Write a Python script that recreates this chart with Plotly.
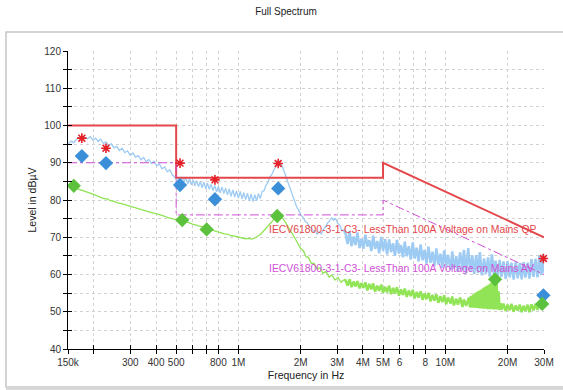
import math
import plotly.graph_objects as go

# ---------------- data ----------------
# limit lines (Hz, dB)
qp_limit_f = [150e3, 500e3, 500e3, 5e6, 5e6, 30e6]
qp_limit_lvl = [100, 100, 86, 86, 90, 70]
av_limit_f = [150e3, 500e3, 500e3, 5e6, 5e6, 30e6]
av_limit_lvl = [90, 90, 76, 76, 80, 60]

# peak trace (blue) - low part in kHz
blue_low_khz = [150, 155, 160, 165, 170, 175, 180, 186, 192, 198, 204, 210, 216, 222, 229, 236, 243, 250, 258, 266,
                274, 282, 291, 300, 309, 318, 328, 338, 348, 358, 369, 380, 391, 403, 415, 427, 440, 453, 466, 480,
                494, 505, 515,
                525, 535, 546, 557, 568, 580, 592, 604, 616, 628, 641, 654, 667, 681, 695, 709, 723, 738, 753, 768,
                784, 800, 816, 833, 850, 867, 885, 903, 921, 940, 959, 979, 999, 1020, 1041, 1062, 1084, 1106, 1129,
                1152, 1176, 1200, 1224, 1249, 1275, 1301,
                1330, 1360, 1390, 1420, 1450, 1480, 1510, 1540, 1570, 1600, 1630, 1660, 1690, 1720, 1760, 1800, 1840,
                1880, 1920, 1960, 2000, 2050, 2100, 2150, 2200, 2250, 2300, 2350, 2400, 2460, 2520, 2580, 2640, 2700,
                2760, 2820, 2880, 2950, 3020, 3090, 3160, 3230]
blue_low_lvl = [95.0, 95.8, 95.4, 96.3, 96.8, 96.2, 96.9, 96.4, 97.0, 96.1, 96.6, 95.7, 96.3, 95.2, 95.6, 94.6, 95.1,
                94.0, 94.4, 93.3, 93.9, 92.7, 93.2, 92.0, 92.6, 91.5, 91.9, 90.8, 91.4, 90.3, 90.9, 89.8, 90.4, 89.2,
                89.7, 88.4, 88.9, 87.6, 88.1, 86.7, 86.0, 85.0, 85.8,
                84.6, 86.2, 84.9, 86.0, 84.3, 85.7, 84.1, 85.4, 83.8, 85.2, 83.6, 85.0, 83.3, 84.8, 83.0, 84.5, 82.9,
                84.2, 82.5, 83.9, 82.2, 83.7, 81.9, 83.5, 81.7, 83.2, 81.4, 83.0, 81.0, 82.7, 80.8, 82.4, 80.5, 82.3,
                80.3, 82.0, 80.1, 81.8, 79.8, 81.6, 79.6, 81.4, 79.8, 81.7, 80.4, 82.3,
                82.5, 84.0, 84.8, 86.2, 86.8, 88.0, 88.8, 90.0, 90.4, 89.8, 89.0, 87.8, 86.5, 85.2, 83.6, 82.0, 80.4,
                79.3, 77.9, 77.2, 76.0, 75.4, 74.3, 73.9, 72.8, 72.6, 71.5, 71.8, 70.8, 71.5, 70.9, 72.2, 72.8, 73.9,
                74.4, 75.2, 74.6, 75.0, 73.8, 73.2, 71.8, 72.0]
# peak trace (blue) - high part in MHz
blue_high_mhz = [3.30, 3.37, 3.45, 3.52, 3.60, 3.68, 3.76, 3.85, 3.93, 4.02, 4.11, 4.20, 4.29, 4.39, 4.48, 4.58, 4.69,
                 4.79, 4.90, 5.00, 5.12, 5.23, 5.35, 5.47, 5.59, 5.71, 5.84, 5.97, 6.10, 6.24, 6.37, 6.51, 6.66, 6.81,
                 6.96, 7.11, 7.27, 7.43, 7.60, 7.77, 7.94, 8.11, 8.29, 8.48, 8.67, 8.86, 9.05, 9.25, 9.46, 9.67, 9.88,
                 10.1, 10.3, 10.6, 10.8, 11.0, 11.3, 11.5, 11.8, 12.1, 12.3, 12.6, 12.9, 13.2, 13.5, 13.8, 14.1, 14.4,
                 14.7, 15.0, 15.4, 15.7, 16.1, 16.4, 16.8, 17.2, 17.5, 17.9, 18.3, 18.7, 19.1, 19.6, 20.0, 20.5, 20.9,
                 21.4, 21.9, 22.4, 22.9, 23.4, 23.9, 24.4, 25.0, 25.5, 26.1, 26.7, 27.3, 27.9, 28.5, 29.1, 29.7, 30.0]
blue_high_lvl = [70.8, 68.2, 71.6, 67.6, 70.2, 67.9, 71.3, 67.1, 69.6, 66.9, 70.7, 67.5, 69.2, 66.3, 70.4, 66.9, 69.0,
                 65.7, 70.1, 66.4, 69.5, 65.4, 69.4, 66.0, 68.4, 65.0, 69.3, 65.6, 67.9, 64.6, 68.8, 64.9, 67.6, 64.0,
                 68.6, 64.3, 67.2, 63.5, 68.1, 63.8, 66.6, 62.9, 67.5, 63.1, 66.1, 62.3, 67.0, 62.7, 65.6, 61.8, 66.5,
                 62.1, 65.3, 61.3, 66.2, 61.6, 64.9, 60.8, 65.9, 61.1, 66.6, 60.4, 67.1, 60.8, 65.1, 60.1, 65.2, 60.4,
                 66.0, 59.8, 64.3, 60.1, 64.6, 59.4, 65.4, 59.8, 63.7, 59.1, 63.9, 59.4, 63.5, 58.8, 63.6, 59.2, 63.2,
                 58.6, 63.4, 59.0, 63.1, 58.7, 63.3, 59.2, 63.2, 58.9, 64.1, 59.4, 64.2, 59.2, 65.0, 59.8, 65.5, 60.5]

# average trace (green) - low part in kHz
green_low_khz = [150, 156, 162, 169, 176, 183, 190, 198, 206, 214, 223, 232, 241, 251, 261, 272, 283, 294, 306, 318,
                 331, 345, 359, 373, 388, 404, 420, 437, 455, 473, 492, 512, 533, 554, 577, 600, 624, 649, 675, 702,
                 730, 760, 790, 822, 855, 889, 925, 962, 1000, 1040, 1080, 1120, 1160, 1200, 1240, 1280, 1320, 1360,
                 1400, 1440, 1480, 1520, 1560, 1600, 1640, 1680, 1720, 1760, 1800, 1850, 1900, 1950, 2000, 2060, 2120,
                 2180, 2250, 2320, 2400, 2480, 2560, 2650, 2740, 2830, 2930, 3030, 3130, 3240]
green_low_lvl = [83.9, 83.6, 83.3, 83.0, 82.5, 82.4, 81.9, 81.6, 81.2, 80.9, 80.4, 80.3, 79.8, 79.6, 79.2, 79.0, 78.7,
                 78.5, 78.2, 77.9, 77.7, 77.3, 77.1, 76.8, 76.5, 76.3, 75.9, 75.7, 75.3, 75.1, 74.8, 74.6, 74.5, 74.1,
                 73.9, 73.5, 73.3, 72.9, 72.7, 72.4, 72.1, 71.9, 71.5, 71.3, 70.9, 70.8, 70.4, 70.3, 70.0, 69.9, 69.6,
                 69.7, 69.5, 69.8, 70.2, 70.8, 71.6, 72.5, 73.3, 74.0, 74.7, 75.3, 75.7, 75.5, 75.0, 74.2, 73.3, 72.4,
                 71.5, 70.3, 69.2, 68.0, 67.0, 66.4, 64.8, 64.6, 63.0, 63.0, 61.5, 61.8, 60.3, 60.8, 59.3, 59.9, 58.5,
                 59.2, 57.9, 58.6]
# average trace (green) - high part in MHz
green_high_mhz = [3.30, 3.37, 3.45, 3.52, 3.60, 3.68, 3.76, 3.85, 3.93, 4.02, 4.11, 4.20, 4.29, 4.39, 4.48, 4.58, 4.69,
                  4.79, 4.90, 5.00, 5.12, 5.23, 5.35, 5.47, 5.59, 5.71, 5.84, 5.97, 6.10, 6.24, 6.37, 6.51, 6.66, 6.81,
                  6.96, 7.11, 7.27, 7.43, 7.60, 7.77, 7.94, 8.11, 8.29, 8.48, 8.67, 8.86, 9.05, 9.25, 9.46, 9.67, 9.88,
                  10.1, 10.3, 10.6, 10.8, 11.0, 11.3, 11.5, 11.8, 12.1, 12.3, 12.6, 12.9,
                  13.0, 13.15, 13.3, 13.45, 13.6, 13.75, 13.9, 14.05, 14.2, 14.35, 14.5, 14.7, 14.85, 15.0, 15.2, 15.35,
                  15.5, 15.7, 15.85, 16.05, 16.2, 16.4, 16.6, 16.75, 16.95, 17.15, 17.35, 17.5, 17.7, 17.9, 18.1, 18.3,
                  18.5, 18.7, 19.1, 19.6, 20.0, 20.5, 20.9, 21.4, 21.9, 22.4, 22.9, 23.4, 23.9, 24.4, 25.0, 25.5, 26.1,
                  26.7, 27.3, 27.9, 28.5, 29.1, 29.7, 30.0]
green_high_lvl = [58.4, 57.0, 58.7, 56.6, 58.1, 56.8, 58.2, 56.3, 57.7, 56.4, 57.9, 55.7, 57.5, 56.0, 57.6, 55.4, 57.0,
                  55.6, 57.3, 55.1, 56.7, 55.2, 57.0, 54.7, 56.4, 54.9, 56.6, 54.3, 56.0, 54.5, 56.2, 54.0, 55.7, 54.2,
                  55.9, 53.6, 55.3, 53.8, 55.5, 53.2, 54.9, 53.4, 55.1, 52.8, 54.5, 53.0, 54.7, 52.4, 54.2, 52.6, 54.4,
                  52.0, 53.8, 52.2, 54.1, 51.7, 53.5, 51.9, 53.8, 51.3, 53.3, 51.6, 53.6,
                  53.8, 51.2, 54.2, 51.1, 54.6, 51.1, 55.0, 51.0, 55.3, 51.0, 55.6, 50.9, 55.9, 50.9, 56.3, 50.8,
                  56.6, 50.8, 57.0, 50.7, 57.3, 50.7, 57.7, 50.7, 58.1, 50.6, 58.6, 50.6, 58.0, 50.6, 55.5, 50.5,
                  52.3, 50.5, 52.2, 50.2, 51.9, 50.4, 52.1, 50.0, 51.7, 50.3, 51.9, 49.9, 51.6, 50.2, 51.9, 49.9, 52.0,
                  50.4, 52.1, 50.5, 52.6, 50.9, 53.0, 52.2]

# final measurement points
qp_f = [175e3, 229e3, 522e3, 770e3, 1.557e6, 29.8e6]
qp_lvl = [96.6, 93.9, 89.9, 85.4, 89.8, 64.3]
peak_f = [175e3, 229e3, 522e3, 770e3, 1.557e6, 29.8e6]
peak_lvl = [91.8, 89.9, 84.0, 80.2, 83.1, 54.4]
avg_f = [160e3, 535e3, 702e3, 1.54e6, 17.4e6, 29.4e6]
avg_lvl = [83.8, 74.6, 72.1, 75.7, 58.7, 52.1]

# axis ticks
x_tickvals = [150e3, 200e3, 300e3, 400e3, 500e3, 600e3, 700e3, 800e3, 1e6, 2e6, 3e6, 4e6, 5e6, 6e6, 7e6, 8e6,
              10e6, 20e6, 30e6]
x_ticktext = ["150k", "", "300", "400", "500", "", "", "800", "1M", "2M", "3M", "4M", "5M", "6", "", "8",
              "10M", "20M", "30M"]
y_tickvals = [40, 45, 50, 55, 60, 65, 70, 75, 80, 85, 90, 95, 100, 105, 110, 115, 120]
y_ticktext = ["40", "", "50", "", "60", "", "70", "", "80", "", "90", "", "100", "", "110", "", "120"]

qp_label = "IECV61800-3-1-C3- LessThan 100A Voltage on Mains QP"
av_label = "IECV61800-3-1-C3- LessThan 100A Voltage on Mains AV"

# ---------------- build ----------------
blue_lo_f = [f * 1e3 for f in blue_low_khz]
blue_hi_f = [blue_lo_f[-1]] + [f * 1e6 for f in blue_high_mhz]
blue_hi_l = [blue_low_lvl[-1]] + blue_high_lvl
green_lo_f = [f * 1e3 for f in green_low_khz]
green_hi_f = [green_lo_f[-1]] + [f * 1e6 for f in green_high_mhz]
green_hi_l = [green_low_lvl[-1]] + green_high_lvl

FONT = "Liberation Sans, Arial, sans-serif"
GREEN = "#90e455"
BLUE = "#9dcbf3"
RED = "#e4474b"
MAG = "#d050d6"

fig = go.Figure()
fig.add_trace(go.Scatter(x=green_lo_f, y=green_low_lvl, mode="lines", line=dict(color=GREEN, width=1.3)))
fig.add_trace(go.Scatter(x=green_hi_f, y=green_hi_l, mode="lines", line=dict(color=GREEN, width=2.5)))
fig.add_trace(go.Scatter(x=blue_lo_f, y=blue_low_lvl, mode="lines", line=dict(color=BLUE, width=1.3)))
fig.add_trace(go.Scatter(x=blue_hi_f, y=blue_hi_l, mode="lines", line=dict(color=BLUE, width=2.5)))
fig.add_trace(go.Scatter(x=qp_limit_f, y=qp_limit_lvl, mode="lines", line=dict(color=RED, width=2)))
fig.add_trace(go.Scatter(x=av_limit_f, y=av_limit_lvl, mode="lines",
                         line=dict(color=MAG, width=1, dash="dashdot")))
fig.add_trace(go.Scatter(x=qp_f, y=qp_lvl, mode="markers", cliponaxis=False,
                         marker=dict(symbol="asterisk-open", size=8, color="#e52028",
                                     line=dict(color="#e52028", width=1.6))))
fig.add_trace(go.Scatter(x=peak_f, y=peak_lvl, mode="markers", cliponaxis=False,
                         marker=dict(symbol="diamond", size=11, color="#3b8fd9")))
fig.add_trace(go.Scatter(x=avg_f, y=avg_lvl, mode="markers", cliponaxis=False,
                         marker=dict(symbol="diamond", size=11, color="#5cc13c")))
# helper trace for the overlay axes (crossing ticks)
fig.add_trace(go.Scatter(x=[], y=[], xaxis="x2", yaxis="y2", showlegend=False))

xr = [math.log10(150e3), math.log10(30e6)]

fig.add_annotation(x=math.log10(1.374e6), y=72.2, text=qp_label, showarrow=False, xanchor="left",
                   yanchor="middle", font=dict(family=FONT, size=10.4, color=RED))
fig.add_annotation(x=math.log10(1.374e6), y=61.7, text=av_label, showarrow=False, xanchor="left",
                   yanchor="middle", font=dict(family=FONT, size=10.4, color=MAG))

axis_common = dict(showline=True, linecolor="#000", linewidth=1, tickcolor="#000", ticklen=4, tickwidth=1,
                   zeroline=False, automargin=False, tickfont=dict(family=FONT, size=10, color="#333"))

fig.update_layout(
    width=563, height=390,
    margin=dict(l=68, r=19, t=51, b=41),
    paper_bgcolor="white", plot_bgcolor="white",
    showlegend=False, hovermode=False,
    font=dict(family=FONT, size=10, color="#333"),
    title=dict(text="Full Spectrum", x=286 / 563, xref="container", xanchor="center",
               y=1 - 11 / 390, yref="container", yanchor="middle",
               font=dict(family=FONT, size=10, color="#222")),
    xaxis=dict(type="log", range=xr, tickvals=x_tickvals, ticktext=x_ticktext, ticks="outside",
               showgrid=True, gridcolor="#d2d2d2", griddash="dot", gridwidth=1,
               title=dict(text="Frequency in Hz", font=dict(family=FONT, size=10.5, color="#222"), standoff=4),
               **axis_common),
    yaxis=dict(range=[40, 120], tickvals=y_tickvals, ticktext=y_ticktext, ticks="outside",
               showgrid=True, gridcolor="#d2d2d2", griddash="dot", gridwidth=1,
               title=dict(text="Level in dBµV", font=dict(family=FONT, size=10.5, color="#222"), standoff=5),
               **axis_common),
    xaxis2=dict(type="log", range=xr, tickvals=x_tickvals, ticks="inside", ticklen=4, tickcolor="#000",
                showticklabels=False, showgrid=False, showline=False, zeroline=False, automargin=False,
                overlaying="x", anchor="y2", side="bottom"),
    yaxis2=dict(range=[40, 120], tickvals=y_tickvals, ticks="inside", ticklen=4, tickcolor="#000",
                showticklabels=False, showgrid=False, showline=False, zeroline=False, automargin=False,
                overlaying="y", anchor="x2", side="left"),
)

# outer frame around the chart
fig.add_shape(type="rect", xref="paper", yref="paper",
              x0=(6 - 68) / 476, x1=(570 - 68) / 476, y0=(349 - 387) / 298, y1=(349 - 32) / 298,
              line=dict(color="#c6c6c6", width=1.5), fillcolor="rgba(0,0,0,0)", layer="below")
fig.add_shape(type="line", xref="paper", yref="paper",
              x0=(6 - 68) / 476, x1=(570 - 68) / 476, y0=(349 - 388.5) / 298, y1=(349 - 388.5) / 298,
              line=dict(color="#d8d8d8", width=3), layer="below")

fig.write_html("out.html", config={"displayModeBar": False, "staticPlot": True},
               post_script="document.body.style.margin='0px';document.body.style.overflow='hidden';")
